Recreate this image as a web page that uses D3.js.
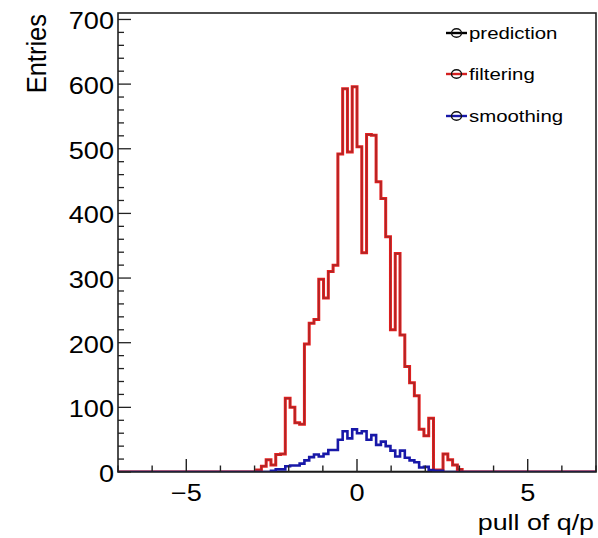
<!DOCTYPE html>
<html><head><meta charset="utf-8">
<script src="https://cdn.jsdelivr.net/npm/d3@7/dist/d3.min.js"></script>
<style>
body{margin:0;background:#fff}
text{font-family:"Liberation Sans",Arial,Helvetica,sans-serif;fill:#000}
</style>
</head><body>
<svg id="c" width="598" height="538"></svg>
<script>
// ---- data ----
const xDomain = [-7, 7];
const nBins = 100;            // histogram bins over xDomain
const firstBin = 29;          // index of first stored bin (bins before/after are empty)
const prediction = [0,0,0,0,0,0,0,0,0,0,0,0,0,0,0,0,0,0,0,0,0,0,0,0,0,0,0,0,0,0,0,0,0,0,0,0,0,0,0,0,0,0,0];
const filtering  = [3,9,19,11,27,28,114,100,76,74,198,230,236,298,269,310,320,492,593,495,596,
                    503,339,522,521,449,423,364,220,338,212,163,138,118,66,56,83,3,3,28,19,11,4];
const smoothing  = [0,0,0,2,4,4,9,10,10,13,18,23,27,24,28,34,34,50,63,52,66,
                    60,63,50,57,42,47,40,33,24,33,22,18,15,7,8,3,2,2,0,0,0,0];
const seriesNames = ["prediction", "filtering", "smoothing"];
const yMax = 710;
const yMajorTicks = [0,100,200,300,400,500,600,700];
const xMajorTicks = [-5,0,5];
const xTickLabels = ["\u22125","0","5"];
const xTitle = "pull of q/p";
const yTitle = "Entries";

// ---- layout ----
const L = 118, R = 596, T = 13, B = 472;
const sx = 1.18; // horizontal text stretch of the reference
const svg = d3.select("#c");
const x = d3.scaleLinear().domain(xDomain).range([L, R]);
const y = d3.scaleLinear().domain([0, yMax]).range([B, T]);

function full(arr){
  const a = new Array(nBins).fill(0);
  arr.forEach((v,i)=>{ a[firstBin+i] = v; });
  return a;
}
const edge = i => xDomain[0] + i*(xDomain[1]-xDomain[0])/nBins;
function stepPath(arr){
  const a = full(arr);
  let d = `M${x(edge(0))},${y(0)}V${y(a[0])}`;
  for(let i=0;i<nBins;i++){
    d += `H${x(edge(i+1))}`;
    if(i+1<nBins) d += `V${y(a[i+1])}`;
  }
  d += `V${y(0)}`;
  return d;
}

svg.append("clipPath").attr("id","clip").append("rect")
  .attr("x",L).attr("y",T).attr("width",R-L).attr("height",B-T);

const g = svg.append("g").attr("clip-path","url(#clip)");
g.append("path").attr("d",stepPath(prediction)).attr("fill","none").attr("stroke","#000").attr("stroke-width",2.4);
g.append("path").attr("d",stepPath(filtering)).attr("fill","none").attr("stroke","#e61e1e").attr("stroke-width",3);
g.append("path").attr("d",stepPath(filtering)).attr("fill","none").attr("stroke","#a52828").attr("stroke-width",1.2);
g.append("path").attr("d",stepPath(smoothing)).attr("fill","none").attr("stroke","#1818a8").attr("stroke-width",2.6);

// frame
svg.append("rect").attr("x",L).attr("y",T).attr("width",R-L).attr("height",B-T)
  .attr("fill","none").attr("stroke","#222").attr("stroke-width",1.6);

// y ticks
const yMinor = d3.range(0, yMax+0.1, 20).filter(v=>v%100!==0);
svg.selectAll(".ymaj").data(yMajorTicks).enter().append("line")
  .attr("x1",L).attr("x2",L+13).attr("y1",d=>y(d)).attr("y2",d=>y(d))
  .attr("stroke","#222").attr("stroke-width",1.3);
svg.selectAll(".ymin").data(yMinor).enter().append("line")
  .attr("x1",L).attr("x2",L+6).attr("y1",d=>y(d)).attr("y2",d=>y(d))
  .attr("stroke","#222").attr("stroke-width",1.3);
svg.selectAll(".ylab").data(yMajorTicks).enter().append("text")
  .attr("transform",d=>`translate(114,${y(d)+10}) scale(${sx},1)`)
  .attr("text-anchor","end").attr("font-size",23).text(d=>d);

// x ticks
const xMinor = d3.range(-7, 7.01, 1).filter(v=>v%5!==0);
svg.selectAll(".xmaj").data(xMajorTicks).enter().append("line")
  .attr("x1",d=>x(d)).attr("x2",d=>x(d)).attr("y1",B).attr("y2",B-13)
  .attr("stroke","#222").attr("stroke-width",1.4);
svg.selectAll(".xmin").data(xMinor).enter().append("line")
  .attr("x1",d=>x(d)).attr("x2",d=>x(d)).attr("y1",B).attr("y2",B-6.5)
  .attr("stroke","#222").attr("stroke-width",1.4);
svg.selectAll(".xlab").data(xMajorTicks).enter().append("text")
  .attr("transform",(d,i)=>`translate(${x(d)},501) scale(${sx},1)`)
  .attr("text-anchor","middle").attr("font-size",23).text((d,i)=>xTickLabels[i]);

// titles
svg.append("text").attr("transform",`translate(594,530) scale(1.22,1)`)
  .attr("text-anchor","end").attr("font-size",22).text(xTitle);
svg.append("text").attr("transform",`translate(46,14) scale(1.12,1) rotate(-90)`)
  .attr("text-anchor","end").attr("font-size",25.5).text(yTitle);

// legend
const legColors = ["#000","#d42020","#1818a8"];
const legY = [33, 74, 116];
seriesNames.forEach((n,i)=>{
  const lg = svg.append("g").attr("transform",`translate(0,${legY[i]})`);
  lg.append("line").attr("x1",446).attr("x2",467).attr("y1",0).attr("y2",0)
    .attr("stroke",legColors[i]).attr("stroke-width",2.4);
  lg.append("ellipse").attr("cx",456.5).attr("cy",0).attr("rx",5).attr("ry",4.3)
    .attr("fill","none").attr("stroke","#111").attr("stroke-width",1.4);
  lg.append("text").attr("transform",`translate(469,6) scale(1.2,1)`)
    .attr("font-size",17).text(n);
});
</script>
</body></html>
